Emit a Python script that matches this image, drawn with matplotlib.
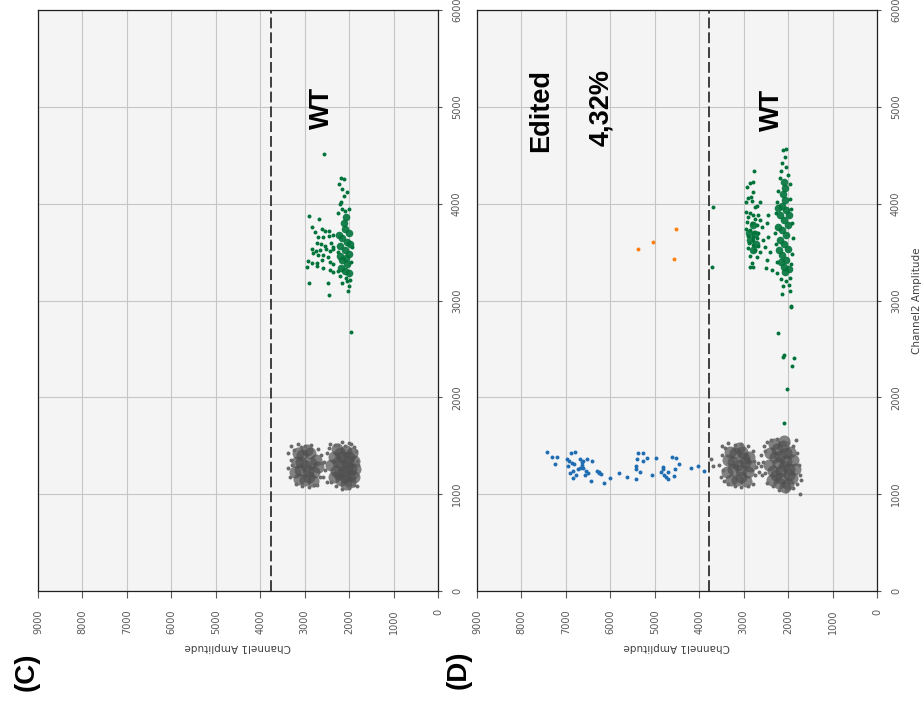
import matplotlib
matplotlib.use("Agg")
import matplotlib.pyplot as plt

# ---- panel C : gouttes (Channel1, Channel2) ----
grisCoeurC_ch1 = [2970, 3100, 2850, 3050, 2900, 3180, 2780, 3000, 2880, 3120, 2750, 3220, 2950, 2820, 3080, 2700, 3150, 2920,
                  2050, 2150, 1950, 2250, 2100, 2000, 2200, 1900, 2300, 2080, 1980, 2180, 2350, 1880, 2120, 2020, 2230, 1930,
                  2400, 2060, 2280, 1860, 2150, 2330, 1960]
grisCoeurC_ch2 = [1290, 1250, 1320, 1400, 1180, 1330, 1230, 1150, 1420, 1160, 1350, 1230, 1460, 1140, 1330, 1280, 1420, 1240,
                  1280, 1300, 1260, 1330, 1180, 1380, 1420, 1180, 1240, 1450, 1130, 1150, 1380, 1340, 1230, 1330, 1210, 1420,
                  1300, 1110, 1470, 1260, 1380, 1180, 1200]
grisBordC_ch1 = [3315, 3090, 3367, 2715, 3300, 3330, 3250, 3200, 3050, 2900, 2780, 2650, 2640, 2700, 2850, 3000, 3280, 2620,
                 3150, 3380,
                 2430, 2318, 1995, 1830, 1815, 2505, 2550, 2500, 2450, 2150, 1900, 1820, 1850, 1880, 2000, 2150, 2300, 2400,
                 2560, 2580, 1800, 2100, 2250, 1950]
grisBordC_ch2 = [1497, 1490, 1267, 1095, 1350, 1180, 1460, 1100, 1080, 1070, 1090, 1180, 1400, 1470, 1510, 1500, 1300, 1320,
                 1520, 1420,
                 1515, 1508, 1525, 1346, 1084, 1129, 1250, 1420, 1480, 1540, 1490, 1200, 1450, 1090, 1060, 1050, 1080, 1130,
                 1330, 1180, 1300, 1500, 1510, 1520]
vertCoeurC_ch1 = [2100, 2050, 2150, 2000, 2100, 2200, 2050, 2150, 2000, 2100, 2200, 2180, 2000, 2120, 2060, 1980, 2230, 2080]
vertCoeurC_ch2 = [3300, 3380, 3420, 3480, 3520, 3560, 3600, 3650, 3700, 3740, 3460, 3340, 3280, 3800, 3860, 3580, 3680, 3440]
vertBordC_ch1 = [2150, 2180, 2120, 2200, 2100, 2160, 2230, 2120, 2190, 2050, 2240, 2000,
                 2050, 2000, 2020, 2080, 2150, 2200, 1980, 2250, 1950, 1940, 2260,
                 2910, 2678, 2828, 2775, 2618, 2550, 2445, 2708, 2595, 2445, 2355, 2730, 2640, 2543, 2415, 2370, 2828, 2745,
                 2655, 2527, 2430, 2355, 2805, 2693, 2580, 2468, 2932, 2842, 2715, 2618, 2430, 2370, 2940, 2730, 2580, 2430,
                 2355, 2910, 2468, 2453,
                 2565, 1965]
vertBordC_ch2 = [3950, 4020, 4080, 4000, 3920, 4150, 4200, 4250, 4270, 4120, 3900, 3950,
                 3200, 3150, 3100, 3230, 3180, 3250, 3210, 3300, 3400, 3550, 3500,
                 3873, 3845, 3756, 3707, 3735, 3721, 3721, 3659, 3659, 3666, 3676, 3590, 3583, 3563, 3590, 3556, 3535, 3514,
                 3521, 3528, 3514, 3528, 3487, 3473, 3470, 3452, 3405, 3390, 3384, 3418, 3400, 3377, 3346, 3356, 3336, 3315,
                 3297, 3184, 3184, 3054,
                 4513, 2675]
seuilC = 3760

# ---- panel D ----
grisCoeurD_ch1 = [3120, 3250, 2980, 3200, 3050, 3350, 2900, 3150, 3030, 3280, 2880, 3380, 3100, 2950, 3230, 2850, 3300, 3070, 3000,
                  2100, 2220, 1980, 2300, 2150, 2050, 2250, 1920, 2350, 2120, 2000, 2200, 2400, 1880, 2150, 2050, 2280, 1950,
                  2430, 2080, 2320, 1850, 2180, 2360, 1980, 2100]
grisCoeurD_ch2 = [1300, 1260, 1330, 1420, 1180, 1350, 1230, 1150, 1440, 1150, 1380, 1230, 1480, 1140, 1330, 1290, 1440, 1250, 1370,
                  1290, 1320, 1260, 1380, 1170, 1420, 1470, 1170, 1240, 1500, 1110, 1120, 1420, 1350, 1240, 1340, 1200, 1440,
                  1300, 1070, 1520, 1260, 1390, 1150, 1200, 1550]
grisBordD_ch1 = [3495, 3460, 3500, 3420, 3350, 3200, 3050, 2900, 2780, 2760, 2745, 2800, 2900, 3050, 3200, 3350, 3440, 3550,
                 3480, 2720, 3735, 3697,
                 2520, 2480, 2380, 2250, 2000, 1900, 1800, 1760, 1740, 1800, 1900, 2050, 2200, 2350, 2470, 2520, 2560, 1740,
                 2600, 2550, 1820, 1700, 2600, 2650, 2580, 2680]
grisBordD_ch2 = [1400, 1250, 1180, 1480, 1530, 1510, 1520, 1500, 1450, 1340, 1200, 1110, 1080, 1070, 1080, 1110, 1140, 1300,
                 1500, 1280, 1363, 1291,
                 1450, 1540, 1560, 1570, 1530, 1500, 1420, 1300, 1200, 1100, 1060, 1030, 1040, 1080, 1120, 1220, 1330, 1005,
                 1400, 1500, 1560, 1150, 1290, 1230, 1200, 1320]
vertCoeurD_ch1 = [2090, 2040, 2140, 2000, 2100, 2190, 2050, 2140, 2000, 2100, 2190, 2050, 2130, 2070, 2110, 2060, 2100, 2200,
                  2170, 1990, 2220, 1980, 2230, 2080,
                  2800, 2750, 2850, 2720, 2880, 2780]
vertCoeurD_ch2 = [3350, 3420, 3470, 3530, 3580, 3620, 3680, 3730, 3780, 3830, 3880, 3930, 3980, 4040, 4100, 4160, 4220, 3520,
                  3400, 3330, 3760, 3880, 3960, 3290,
                  3780, 3690, 3620, 3580, 3700, 3520]
vertBordD_ch1 = [2122, 2047, 2080, 2130, 2050, 2160, 2000, 2190, 1960, 2230, 1950, 2260, 1930, 2280, 1920, 2290, 1900, 2270,
                 1910, 2260, 1930, 2240, 1960, 2170, 2050, 1990, 2110, 2145, 1957, 1928, 1940, 2220, 2092, 2115, 1860, 1912,
                 2032, 2085, 3682, 3720,
                 2760, 2782, 2857, 2932, 2797, 2835, 2910, 2947, 2812, 2640, 2737, 2700, 2948, 2858, 2783, 2670, 2895, 2745,
                 2633, 2933, 2820, 2708, 2595, 2948, 2858, 2768, 2670, 2895, 2797, 2708, 2572, 2873, 2783, 2670, 2895, 2745,
                 2633, 2858, 2708, 2783, 2858, 2783, 2820, 2482, 2445, 2520, 2408, 2482, 2370, 2497, 2445]
vertBordD_ch2 = [4554, 4568, 4480, 4420, 4380, 4340, 4300, 4260, 4200, 4130, 4050, 4020, 3950, 3900, 3800, 3700, 3650, 3580,
                 3480, 3400, 3380, 3280, 3230, 3220, 3200, 3160, 3150, 3064, 3101, 2930, 2945, 2664, 2434, 2420, 2409, 2323,
                 2083, 1735, 3962, 3346,
                 4337, 4227, 4210, 4175, 4120, 4072, 4055, 4020, 4031, 4020, 3969, 3976, 3917, 3900, 3883, 3883, 3859, 3838,
                 3831, 3814, 3797, 3780, 3762, 3735, 3728, 3711, 3694, 3666, 3652, 3642, 3625, 3590, 3573, 3563, 3539, 3521,
                 3504, 3459, 3452, 3625, 3349, 3342, 3384, 3797, 3659, 3556, 3504, 3418, 3315, 3332, 3883]
bleuD_ch1 = [7432, 7320, 7193, 7238, 6968, 6885, 6795, 6923, 6869, 6811, 6946, 6847, 6908, 6833, 6764, 6719, 6676, 6645,
             6608, 6645, 6683, 6622, 6518, 6419, 6548, 6495, 6560, 6426, 6291, 6245, 6215, 6260, 6135, 6015, 5798, 5633,
             5415, 5422, 5422, 5407, 5370, 5258, 5272, 5167, 5323, 5068, 4972, 4807, 4823, 4868, 4793, 4748, 4703, 4695,
             4612, 4522, 4447, 4545, 4574, 4192, 4027, 3885]
bleuD_ch2 = [1435, 1387, 1387, 1311, 1366, 1425, 1439, 1339, 1318, 1311, 1291, 1242, 1222, 1170, 1194, 1256, 1366, 1335,
             1339, 1301, 1267, 1267, 1366, 1339, 1239, 1215, 1194, 1139, 1242, 1232, 1208, 1215, 1118, 1167, 1215, 1181,
             1160, 1256, 1291, 1366, 1422, 1428, 1346, 1373, 1229, 1194, 1370, 1284, 1263, 1225, 1201, 1174, 1153, 1229,
             1387, 1373, 1311, 1263, 1184, 1270, 1294, 1242]
orangeD_ch1 = [5385, 5033, 4523, 4560]
orangeD_ch2 = [3535, 3607, 3738, 3425]
seuilD = 3780

ticksCh1 = list(range(0, 10000, 1000))
ticksCh2 = list(range(0, 7000, 1000))

GRIS = "#6a6a6a"
VERT = "#00733a"
BLEU = "#1f6db2"
ORANGE = "#ff7f0e"
police = "Liberation Sans"

fig = plt.figure(figsize=(9.23, 7.09), dpi=100)


def prepareAxe(rect, seuil, labelCh2):
    ax = fig.add_axes(rect)
    ax.set_facecolor("#f4f4f4")
    ax.set_xlim(9000, 0)
    ax.set_ylim(0, 6000)
    ax.set_xticks(ticksCh1)
    ax.set_yticks(ticksCh2)
    ax.grid(True, color="#c6c6c6", linewidth=0.8)
    ax.set_axisbelow(True)
    ax.yaxis.tick_right()
    ax.tick_params(axis="x", labelrotation=90, labelsize=7, colors="#595959", length=5, pad=8)
    ax.tick_params(axis="y", labelrotation=90, labelsize=7, colors="#595959", length=3, pad=7)
    for lab in ax.get_yticklabels():
        lab.set_verticalalignment("center")
    for s in ax.spines.values():
        s.set_color("#202020")
        s.set_linewidth(0.9)
    ax.set_xlabel("Channel1 Amplitude", rotation=180, fontsize=7.5, color="#404040", labelpad=6)
    if labelCh2:
        ax.yaxis.set_label_position("right")
        ax.set_ylabel("Channel2 Amplitude", rotation=90, fontsize=7.5, color="#404040", labelpad=8)
    ax.axvline(seuil, color="#303030", linewidth=1.3, dashes=(6, 2.2), zorder=4)
    return ax


def dessine(ax, grisCoeur, grisBord, vertCoeur, vertBord):
    # coeur dense des nuages + gouttes isolees autour
    ax.scatter(grisCoeur[0], grisCoeur[1], s=75, color="#505050", alpha=0.7, linewidths=0, zorder=3)
    ax.scatter(grisBord[0], grisBord[1], s=8, color=GRIS, linewidths=0, zorder=3)
    ax.scatter(vertCoeur[0], vertCoeur[1], s=30, color=VERT, alpha=0.9, linewidths=0, zorder=3)
    ax.scatter(vertBord[0], vertBord[1], s=8, color=VERT, linewidths=0, zorder=3)


axC = prepareAxe([38 / 923, 118 / 709, 400 / 923, 581 / 709], seuilC, False)
dessine(axC, (grisCoeurC_ch1, grisCoeurC_ch2), (grisBordC_ch1, grisBordC_ch2),
        (vertCoeurC_ch1, vertCoeurC_ch2), (vertBordC_ch1, vertBordC_ch2))
axC.text(2610, 4988, "WT", rotation=90, ha="center", va="center", fontsize=19.5, fontweight="bold", family=police)

axD = prepareAxe([477 / 923, 118 / 709, 400 / 923, 581 / 709], seuilD, True)
dessine(axD, (grisCoeurD_ch1, grisCoeurD_ch2), (grisBordD_ch1, grisBordD_ch2),
        (vertCoeurD_ch1, vertCoeurD_ch2), (vertBordD_ch1, vertBordD_ch2))
axD.scatter(bleuD_ch1, bleuD_ch2, s=8, color=BLEU, linewidths=0, zorder=3)
axD.scatter(orangeD_ch1, orangeD_ch2, s=8, color=ORANGE, linewidths=0, zorder=3)
axD.text(7560, 4967, "Edited", rotation=90, ha="center", va="center", fontsize=19.5, fontweight="bold", family=police)
axD.text(6210, 4988, "4,32%", rotation=90, ha="center", va="center", fontsize=19.5, fontweight="bold", family=police)
axD.text(2362, 4967, "WT", rotation=90, ha="center", va="center", fontsize=19.5, fontweight="bold", family=police)

fig.text(27 / 923, 1 - 672 / 709, "(C)", rotation=90, ha="center", va="center", fontsize=20, fontweight="bold", family=police)
fig.text(459 / 923, 1 - 670 / 709, "(D)", rotation=90, ha="center", va="center", fontsize=20, fontweight="bold", family=police)

fig.savefig("out.png", dpi=100)
